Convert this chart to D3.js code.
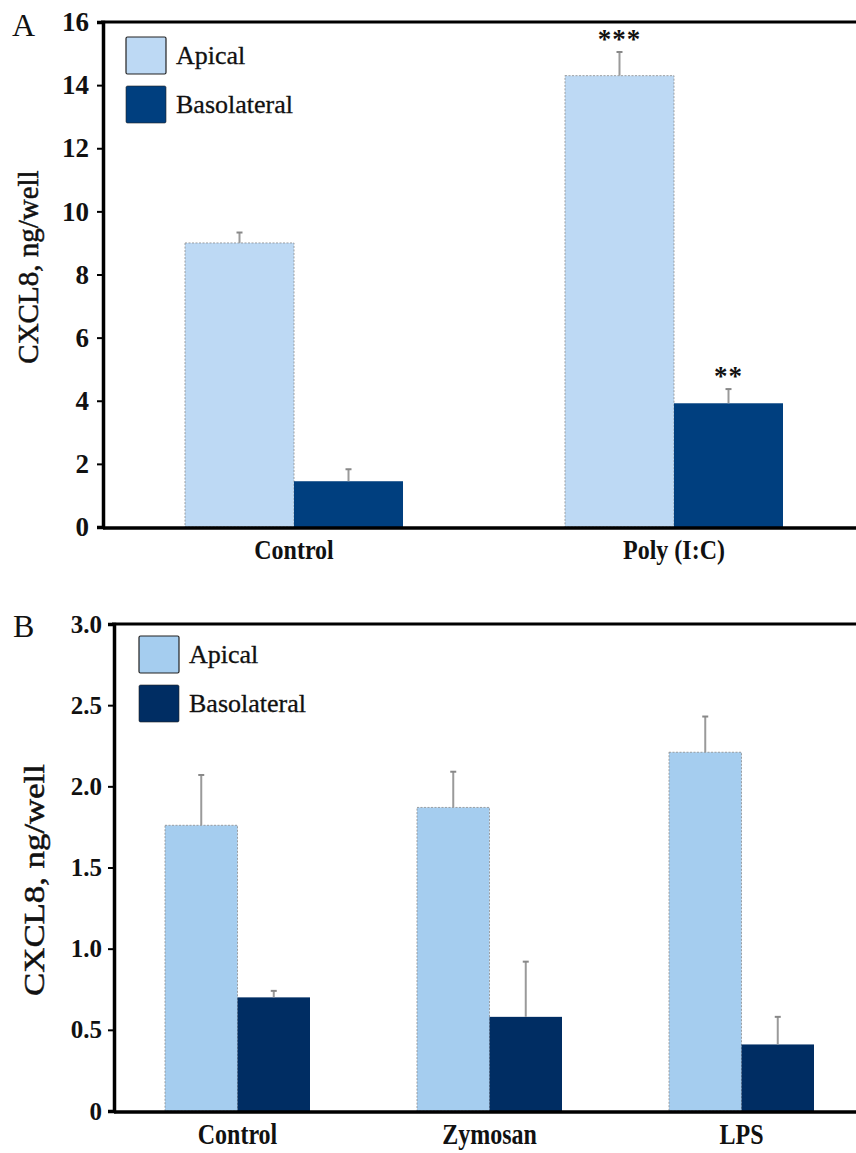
<!DOCTYPE html>
<html>
<head>
<meta charset="utf-8">
<script src="https://cdn.jsdelivr.net/npm/d3@7"></script>
<style>
  html, body { margin: 0; padding: 0; background: #fff; }
  svg { display: block; }
  text { font-family: "Liberation Serif", "Times New Roman", serif; fill: #111; }
</style>
</head>
<body>
<script>
// Panel A: CXCL8 release after Poly (I:C)
const catsA = ["Control", "Poly (I:C)"];
const apicalA = [9.0, 14.3];
const apicalErrA = [0.33, 0.75];
const basoA = [1.45, 3.92];
const basoErrA = [0.38, 0.45];
const starsA = [["", ""], ["***", "**"]];
const ticksA = [0, 2, 4, 6, 8, 10, 12, 14, 16];

// Panel B: CXCL8 release after Zymosan / LPS
const catsB = ["Control", "Zymosan", "LPS"];
const apicalB = [1.76, 1.87, 2.21];
const apicalErrB = [0.31, 0.22, 0.22];
const basoB = [0.70, 0.58, 0.41];
const basoErrB = [0.04, 0.34, 0.17];
const ticksB = [0, 0.5, 1.0, 1.5, 2.0, 2.5, 3.0];
const tickFmtB = ["0", "0.5", "1.0", "1.5", "2.0", "2.5", "3.0"];

const seriesNames = ["Apical", "Basolateral"];

const svg = d3.select("body").append("svg").attr("width", 856).attr("height", 1153);

function panel(cfg) {
  const g = svg.append("g");
  const y = d3.scaleLinear().domain(cfg.domain).range([cfg.y0, cfg.y1]);
  const x = d3.scaleBand().domain(cfg.cats).range(cfg.barRange).paddingInner(cfg.padIn).paddingOuter(0);
  const xs = d3.scaleBand().domain(seriesNames).range([0, x.bandwidth()]);

  // bars with error bars
  cfg.cats.forEach((c, i) => {
    const vals = [cfg.apical[i], cfg.baso[i]];
    const errs = [cfg.apicalErr[i], cfg.basoErr[i]];
    seriesNames.forEach((s, j) => {
      const bx = x(c) + xs(s);
      g.append("rect")
        .attr("x", bx).attr("y", y(vals[j]))
        .attr("width", xs.bandwidth()).attr("height", y(0) - y(vals[j]))
        .attr("fill", cfg.colors[j])
        .attr("stroke", j === 0 ? "#8c8c8c" : "none")
        .attr("stroke-width", j === 0 ? 0.8 : 0)
        .attr("stroke-dasharray", "2,1.5");
      const cx = bx + xs.bandwidth() / 2;
      g.append("line")
        .attr("x1", cx).attr("x2", cx)
        .attr("y1", y(vals[j])).attr("y2", y(vals[j] + errs[j]))
        .attr("stroke", "#9a9a9a").attr("stroke-width", 2);
      g.append("line")
        .attr("x1", cx - 3).attr("x2", cx + 3)
        .attr("y1", y(vals[j] + errs[j])).attr("y2", y(vals[j] + errs[j]))
        .attr("stroke", "#888").attr("stroke-width", 2);
      if (cfg.stars && cfg.stars[i][j]) {
        g.append("text")
          .attr("x", cx).attr("y", y(vals[j] + errs[j]) - 4)
          .attr("text-anchor", "middle")
          .attr("font-size", 27).attr("font-weight", "bold")
          .attr("letter-spacing", 1)
          .attr("fill", "#333")
          .text(cfg.stars[i][j]);
      }
    });
    // category label
    const lx = x(c) + x.bandwidth() / 2, ly = cfg.y0 + cfg.catDy;
    g.append("text")
      .attr("transform", `translate(${lx},${ly}) scale(1,${cfg.catStretch})`)
      .attr("text-anchor", "middle")
      .attr("font-size", cfg.catSize).attr("font-weight", "bold")
      .text(c);
  });

  // y axis
  const axis = d3.axisLeft(y).tickValues(cfg.ticks).tickSize(6).tickPadding(cfg.tickPad)
    .tickFormat((d, i) => cfg.tickFmt ? cfg.tickFmt[i] : d);
  const ag = g.append("g").attr("transform", `translate(${cfg.xL},0)`).call(axis);
  ag.select(".domain").attr("stroke", "#000").attr("stroke-width", 3.5);
  ag.selectAll(".tick line").attr("stroke", "#000").attr("stroke-width", 2);
  ag.selectAll(".tick text")
    .attr("font-family", "Liberation Serif, serif")
    .attr("font-size", cfg.tickSize).attr("font-weight", "bold").attr("fill", "#111");

  // baseline and top frame line
  g.append("line").attr("x1", cfg.xL).attr("x2", 856).attr("y1", y(0) + 1).attr("y2", y(0) + 1)
    .attr("stroke", "#000").attr("stroke-width", 3.5);
  g.append("line").attr("x1", cfg.xL - 2).attr("x2", 856).attr("y1", cfg.y1).attr("y2", cfg.y1)
    .attr("stroke", "#000").attr("stroke-width", 3);

  // y axis title
  g.append("text")
    .attr("transform", `translate(${cfg.titleX},${cfg.titleY}) rotate(-90) scale(${cfg.titleStretch},1)`)
    .attr("text-anchor", "middle")
    .attr("font-size", 29)
    .attr("stroke", "#111").attr("stroke-width", 0.5)
    .text("CXCL8, ng/well");

  // panel letter
  g.append("text").attr("x", cfg.letterX).attr("y", cfg.letterY)
    .attr("font-size", 32).text(cfg.letter);

  // legend
  seriesNames.forEach((s, j) => {
    const ly = cfg.legY + j * cfg.legStep;
    g.append("rect")
      .attr("x", cfg.legX).attr("y", ly)
      .attr("width", 40).attr("height", 37).attr("rx", 1.5)
      .attr("fill", cfg.colors[j])
      .attr("stroke", "#222").attr("stroke-width", j === 0 ? 1.2 : 0.6);
    g.append("text")
      .attr("x", cfg.legX + 50).attr("y", ly + 27)
      .attr("font-size", 26)
      .attr("stroke", "#111").attr("stroke-width", 0.3)
      .text(s);
  });
}

panel({
  cats: catsA, apical: apicalA, apicalErr: apicalErrA, baso: basoA, basoErr: basoErrA,
  stars: starsA, ticks: ticksA, domain: [0, 16], y0: 527, y1: 22,
  xL: 103, barRange: [185, 783], padIn: 0.4263,
  colors: ["#bdd9f4", "#003f7f"],
  catSize: 24, catDy: 32, catStretch: 1.1, tickSize: 27, tickPad: 8,
  titleX: 38, titleY: 267, titleStretch: 1,
  letter: "A", letterX: 12, letterY: 36,
  legX: 126, legY: 37, legStep: 49
});

panel({
  cats: catsB, apical: apicalB, apicalErr: apicalErrB, baso: basoB, basoErr: basoErrB,
  stars: null, ticks: ticksB, tickFmt: tickFmtB, domain: [0, 3], y0: 1111, y1: 624,
  xL: 114, barRange: [165, 814], padIn: 0.4246,
  colors: ["#a5cdef", "#002d63"],
  catSize: 24, catDy: 33, catStretch: 1.25, tickSize: 25, tickPad: 6,
  titleX: 44, titleY: 880, titleStretch: 1.2,
  letter: "B", letterX: 13, letterY: 637,
  legX: 139, legY: 636, legStep: 49
});
</script>
</body>
</html>
